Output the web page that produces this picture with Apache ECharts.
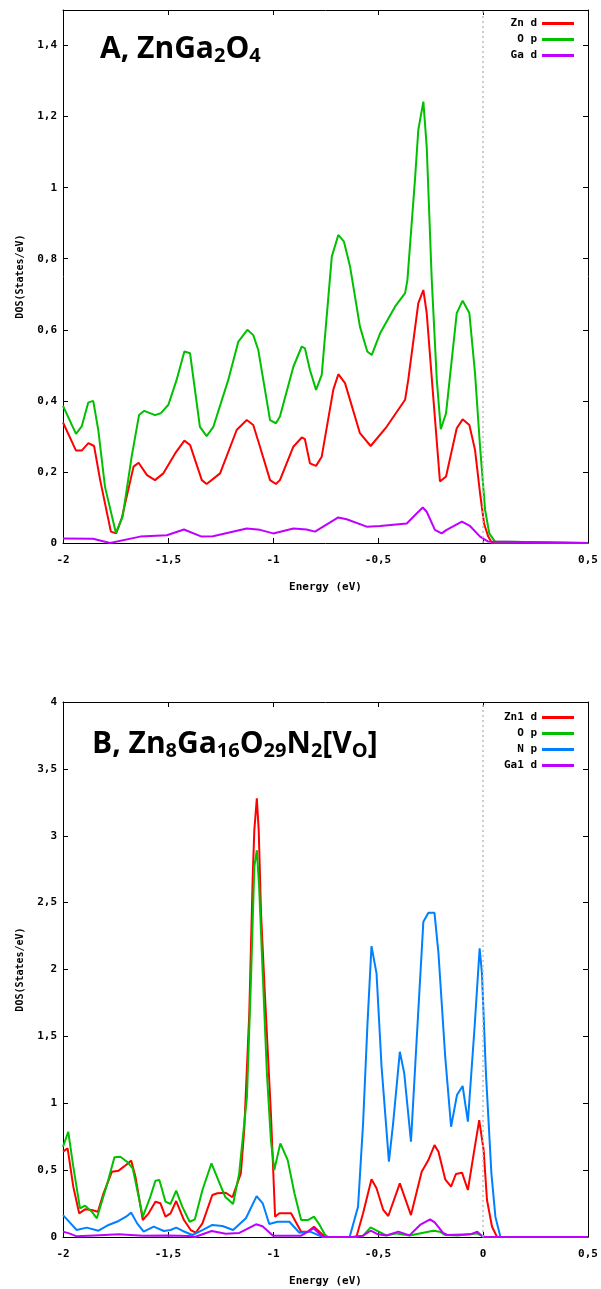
<!DOCTYPE html>
<html>
<head>
<meta charset="utf-8">
<script src="https://cdn.jsdelivr.net/npm/echarts@6/dist/echarts.min.js"></script>
<style>
html, body { margin: 0; padding: 0; background: #fff; }
#chart { width: 601px; height: 1289px; }
</style>
</head>
<body>
<div id="chart"></div>
<script>
// panel A : ZnGa2O4
const energyA_Zn = [-2, -1.938, -1.911, -1.879, -1.852, -1.823, -1.772, -1.747, -1.72, -1.664, -1.64, -1.60, -1.562, -1.522, -1.466, -1.422, -1.395, -1.339, -1.316, -1.252, -1.173, -1.125, -1.094, -1.062, -1.014, -0.986, -0.967, -0.903, -0.863, -0.848, -0.824, -0.795, -0.768, -0.713, -0.689, -0.657, -0.586, -0.535, -0.459, -0.371, -0.356, -0.308, -0.284, -0.268, -0.237, -0.205, -0.176, -0.125, -0.097, -0.065, -0.038, -0.014, 0.005, 0.025, 0.043, 0.5]
const dosA_Zn = [0.339, 0.26, 0.26, 0.281, 0.273, 0.177, 0.032, 0.027, 0.07, 0.215, 0.226, 0.191, 0.177, 0.196, 0.252, 0.288, 0.276, 0.177, 0.166, 0.196, 0.318, 0.346, 0.332, 0.271, 0.177, 0.166, 0.177, 0.271, 0.297, 0.292, 0.224, 0.217, 0.243, 0.431, 0.475, 0.45, 0.309, 0.273, 0.327, 0.403, 0.459, 0.675, 0.712, 0.647, 0.412, 0.173, 0.187, 0.323, 0.348, 0.332, 0.262, 0.14, 0.055, 0.018, 0, 0]

const energyA_O = [-2, -1.938, -1.911, -1.880, -1.856, -1.832, -1.80, -1.748, -1.716, -1.673, -1.638, -1.613, -1.562, -1.535, -1.498, -1.459, -1.422, -1.395, -1.348, -1.316, -1.284, -1.213, -1.165, -1.122, -1.094, -1.07, -1.014, -0.986, -0.967, -0.903, -0.863, -0.848, -0.824, -0.795, -0.768, -0.720, -0.689, -0.662, -0.633, -0.586, -0.551, -0.530, -0.490, -0.419, -0.371, -0.360, -0.324, -0.308, -0.284, -0.268, -0.244, -0.220, -0.201, -0.176, -0.125, -0.097, -0.065, -0.038, -0.014, 0.010, 0.030, 0.057, 0.5]
const dosA_O = [0.386, 0.307, 0.328, 0.395, 0.40, 0.318, 0.158, 0.028, 0.074, 0.243, 0.36, 0.372, 0.36, 0.365, 0.389, 0.459, 0.539, 0.534, 0.327, 0.301, 0.327, 0.459, 0.567, 0.60, 0.585, 0.543, 0.346, 0.337, 0.356, 0.496, 0.553, 0.548, 0.487, 0.431, 0.473, 0.806, 0.867, 0.848, 0.778, 0.609, 0.539, 0.529, 0.590, 0.665, 0.703, 0.74, 1.022, 1.163, 1.242, 1.115, 0.74, 0.459, 0.32, 0.365, 0.647, 0.682, 0.647, 0.478, 0.271, 0.093, 0.027, 0.004, 0]

const energyA_Ga = [-2, -1.857, -1.776, -1.633, -1.506, -1.424, -1.34, -1.286, -1.125, -1.062, -0.999, -0.903, -0.840, -0.8, -0.689, -0.649, -0.554, -0.490, -0.363, -0.316, -0.287, -0.268, -0.229, -0.197, -0.173, -0.101, -0.062, -0.014, 0.025, 0.5]
const dosA_Ga = [0.013, 0.012, 0, 0.018, 0.022, 0.038, 0.018, 0.019, 0.041, 0.037, 0.027, 0.041, 0.038, 0.032, 0.072, 0.067, 0.046, 0.048, 0.055, 0.083, 0.100, 0.088, 0.037, 0.027, 0.037, 0.06, 0.048, 0.018, 0.004, 0]

// panel B : Zn8Ga16O29N2[Vo]
const energyB_Zn = [-2, -1.978, -1.951, -1.923, -1.895, -1.863, -1.834, -1.807, -1.767, -1.735, -1.70, -1.675, -1.655, -1.62, -1.592, -1.56, -1.536, -1.512, -1.488, -1.461, -1.424, -1.392, -1.368, -1.336, -1.289, -1.265, -1.225, -1.193, -1.153, -1.137, -1.113, -1.097, -1.089, -1.077, -1.068, -1.057, -1.038, -1.010, -0.990, -0.970, -0.914, -0.866, -0.834, -0.805, -0.762, -0.74, -0.603, -0.571, -0.531, -0.507, -0.475, -0.451, -0.396, -0.343, -0.292, -0.260, -0.231, -0.212, -0.180, -0.152, -0.129, -0.100, -0.072, -0.044, -0.018, 0.003, 0.019, 0.043, 0.067, 0.5]
const dosB_Zn = [0.638, 0.663, 0.376, 0.177, 0.207, 0.202, 0.189, 0.327, 0.488, 0.496, 0.538, 0.571, 0.451, 0.127, 0.177, 0.264, 0.252, 0.152, 0.177, 0.269, 0.127, 0.052, 0.032, 0.102, 0.314, 0.327, 0.331, 0.297, 0.476, 0.8, 1.67, 2.668, 3.04, 3.279, 3.04, 2.42, 1.796, 0.925, 0.152, 0.177, 0.177, 0.04, 0.04, 0.077, 0.015, 0, 0, 0.177, 0.431, 0.364, 0.202, 0.157, 0.401, 0.164, 0.488, 0.575, 0.687, 0.638, 0.431, 0.376, 0.471, 0.481, 0.351, 0.625, 0.874, 0.65, 0.277, 0.077, 0, 0]

const energyB_O = [-2, -1.975, -1.951, -1.919, -1.895, -1.863, -1.839, -1.791, -1.755, -1.727, -1.695, -1.668, -1.62, -1.584, -1.56, -1.541, -1.512, -1.488, -1.461, -1.432, -1.397, -1.372, -1.336, -1.293, -1.257, -1.228, -1.19, -1.161, -1.124, -1.105, -1.089, -1.077, -1.066, -1.049, -1.029, -1.010, -0.994, -0.965, -0.930, -0.898, -0.866, -0.834, -0.805, -0.778, -0.754, -0.74, -0.62, -0.571, -0.535, -0.506, -0.46, -0.411, -0.35, -0.284, -0.237, -0.205, -0.181, -0.12, -0.03, 0.01, 0.5]
const dosB_O = [0.675, 0.787, 0.526, 0.214, 0.234, 0.189, 0.14, 0.389, 0.596, 0.60, 0.563, 0.513, 0.152, 0.301, 0.421, 0.426, 0.264, 0.247, 0.346, 0.227, 0.114, 0.132, 0.351, 0.551, 0.413, 0.301, 0.247, 0.476, 1.048, 1.92, 2.767, 2.892, 2.618, 1.971, 1.223, 0.725, 0.501, 0.70, 0.575, 0.327, 0.127, 0.127, 0.152, 0.09, 0.02, 0, 0, 0.01, 0.072, 0.047, 0.012, 0.027, 0.012, 0.032, 0.047, 0.04, 0.015, 0.012, 0.027, 0, 0]

const energyB_N = [-2, -1.967, -1.935, -1.887, -1.831, -1.783, -1.735, -1.70, -1.675, -1.647, -1.616, -1.568, -1.52, -1.488, -1.461, -1.432, -1.384, -1.336, -1.289, -1.241, -1.19, -1.129, -1.078, -1.049, -1.018, -0.978, -0.922, -0.874, -0.824, -0.762, -0.635, -0.595, -0.571, -0.55, -0.531, -0.507, -0.483, -0.448, -0.428, -0.396, -0.375, -0.343, -0.316, -0.284, -0.260, -0.231, -0.212, -0.180, -0.152, -0.124, -0.097, -0.072, -0.04, -0.016, -0.005, 0.014, 0.04, 0.059, 0.083, 0.5]
const dosB_N = [0.164, 0.107, 0.052, 0.07, 0.047, 0.09, 0.12, 0.152, 0.182, 0.102, 0.04, 0.077, 0.045, 0.052, 0.07, 0.047, 0.015, 0.052, 0.09, 0.082, 0.052, 0.14, 0.306, 0.252, 0.097, 0.114, 0.114, 0.032, 0.04, 0, 0, 0.227, 0.85, 1.597, 2.175, 1.971, 1.273, 0.563, 0.85, 1.385, 1.223, 0.712, 1.472, 2.357, 2.424, 2.424, 2.12, 1.348, 0.824, 1.061, 1.129, 0.862, 1.572, 2.158, 1.971, 1.223, 0.476, 0.152, 0, 0]

const energyB_Ga = [-2, -1.967, -1.935, -1.85, -1.735, -1.62, -1.5, -1.4, -1.372, -1.292, -1.225, -1.16, -1.081, -1.05, -1.0, -0.866, -0.807, -0.762, -0.62, -0.571, -0.535, -0.5, -0.46, -0.403, -0.35, -0.3, -0.252, -0.23, -0.19, -0.17, -0.06, -0.027, 0.0, 0.5]
const dosB_Ga = [0.04, 0.025, 0.005, 0.012, 0.02, 0.01, 0.012, 0.008, 0, 0.045, 0.025, 0.03, 0.095, 0.08, 0.01, 0.01, 0.065, 0, 0, 0.01, 0.047, 0.02, 0.012, 0.04, 0.012, 0.09, 0.132, 0.11, 0.03, 0.015, 0.02, 0.04, 0, 0]

const legendA = ['Zn d', 'O p', 'Ga d']
const legendB = ['Zn1 d', 'O p', 'N p', 'Ga1 d']

const RED = '#ff0000', GREEN = '#00c000', BLUE = '#0080ff', PURPLE = '#c000ff'

const mono = { fontFamily: 'DejaVu Sans Mono', fontWeight: 'bold', fontSize: 11, color: '#000' }
const comma = v => String(v).replace('.', ',')

const pairs = (xs, ys) => xs.map((x, i) => [x, ys[i]])

function xAxes(grid) {
  const base = {
    type: 'value', gridIndex: grid, min: -2, max: 0.5, interval: 0.5,
    splitLine: { show: false },
    axisLine: { show: true, onZero: false, lineStyle: { color: '#000', width: 1 } },
    axisTick: { inside: true, length: 5, lineStyle: { color: '#000' } },
  }
  return [
    { ...base, position: 'bottom', name: 'Energy (eV)', nameLocation: 'middle', nameGap: 39,
      nameTextStyle: mono, axisLabel: { ...mono, margin: 12, formatter: comma } },
    { ...base, position: 'top', axisLabel: { show: false } },
  ]
}

function yAxes(grid, max, step) {
  const base = {
    type: 'value', gridIndex: grid, min: 0, max: max, interval: step,
    splitLine: { show: false },
    axisLine: { show: true, onZero: false, lineStyle: { color: '#000', width: 1 } },
    axisTick: { inside: true, length: 5, lineStyle: { color: '#000' } },
  }
  return [
    { ...base, position: 'left', name: 'DOS(States/eV)', nameLocation: 'middle', nameGap: 38,
      nameTextStyle: { ...mono, fontSize: 10 },
      axisLabel: { ...mono, margin: 6, formatter: comma, showMaxLabel: max % step === 0 } },
    { ...base, position: 'right', axisLabel: { show: false } },
  ]
}

function line(name, color, data, xi, yi, zeroLine) {
  const s = {
    name: name, type: 'line', xAxisIndex: xi, yAxisIndex: yi, data: data,
    showSymbol: false, symbol: 'none',
    lineStyle: { color: color, width: 2 }, itemStyle: { color: color },
  }
  if (zeroLine) {
    s.markLine = {
      silent: true, symbol: ['none', 'none'], label: { show: false },
      lineStyle: { color: '#bdbdbd', type: [2, 3], width: 1.5 },
      data: [{ xAxis: 0 }],
    }
  }
  return s
}

// title font, subscripts sit a little under the baseline
const rich = {
  m: { fontFamily: 'Open Sans', fontWeight: 'bold', fontSize: 30, lineHeight: 34, color: '#000' },
  s: { fontFamily: 'Open Sans', fontWeight: 'bold', fontSize: 20, lineHeight: 22, verticalAlign: 'bottom', color: '#000' },
}

const legendBase = {
  orient: 'vertical', right: 27, align: 'right', padding: 0,
  icon: 'rect', itemWidth: 32, itemHeight: 3, itemGap: 3,
  textStyle: { ...mono, lineHeight: 13 },
}

const chart = echarts.init(document.getElementById('chart'))
chart.setOption({
  animation: false,
  backgroundColor: '#fff',
  title: [
    { left: 100, top: 32, padding: 0, text: '{m|A, ZnGa}{s|2}{m|O}{s|4}', textStyle: { rich } },
    { left: 92, top: 727, padding: 0, text: '{m|B, Zn}{s|8}{m|Ga}{s|16}{m|O}{s|29}{m|N}{s|2}{m|[V}{s|O}{m|]}', textStyle: { rich } },
  ],
  legend: [
    { ...legendBase, top: 17, data: legendA },
    { ...legendBase, top: 711, data: legendB },
  ],
  grid: [
    { left: 63, top: 10, width: 525, height: 533 },
    { left: 63, top: 702, width: 525, height: 535 },
  ],
  xAxis: [...xAxes(0), ...xAxes(1)],
  yAxis: [...yAxes(0, 1.5, 0.2), ...yAxes(1, 4, 0.5)],
  series: [
    line('Zn d', RED, pairs(energyA_Zn, dosA_Zn), 0, 0, true),
    line('O p', GREEN, pairs(energyA_O, dosA_O), 0, 0),
    line('Ga d', PURPLE, pairs(energyA_Ga, dosA_Ga), 0, 0),
    line('Zn1 d', RED, pairs(energyB_Zn, dosB_Zn), 2, 2, true),
    line('O p', GREEN, pairs(energyB_O, dosB_O), 2, 2),
    line('N p', BLUE, pairs(energyB_N, dosB_N), 2, 2),
    line('Ga1 d', PURPLE, pairs(energyB_Ga, dosB_Ga), 2, 2),
  ],
})
</script>
</body>
</html>
